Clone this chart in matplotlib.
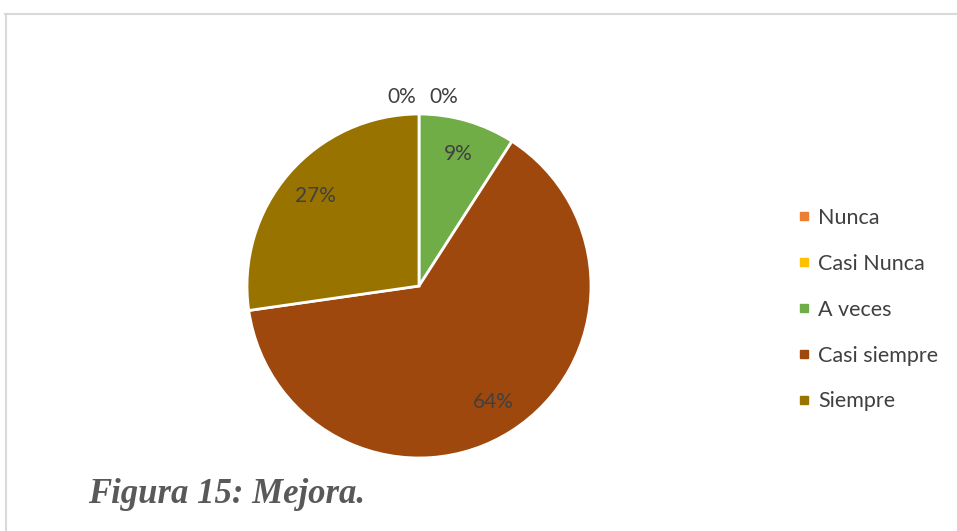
import matplotlib.pyplot as plt
from matplotlib.lines import Line2D
import numpy as np

# Respuestas por categoría (n = 11)
categorias = ['Nunca', 'Casi Nunca', 'A veces', 'Casi siempre', 'Siempre']
respuestas = [0, 0, 1, 7, 3]
colores = ['#ED7D31', '#FFC000', '#70AD47', '#9E480E', '#997300']

total = sum(respuestas)
porcentajes = [100 * v / total for v in respuestas]

fig = plt.figure(figsize=(9.57, 5.31), dpi=100)
W, H = 957, 531

# marco del gráfico
fig.add_artist(Line2D([5 / W, 1], [1 - 14 / H, 1 - 14 / H], color='#D9D9D9', lw=1.5))
fig.add_artist(Line2D([6 / W, 6 / W], [0, 1 - 14 / H], color='#D9D9D9', lw=1.5))

cx, cy, r = 419, 286, 172
ax = fig.add_axes([(cx - r) / W, (H - cy - r) / H, 2 * r / W, 2 * r / H])

wedges, _ = ax.pie(respuestas, colors=colores, startangle=90, counterclock=False,
                   radius=1, wedgeprops=dict(edgecolor='white', linewidth=2))
ax.set_xlim(-1, 1)
ax.set_ylim(-1, 1)
ax.axis('off')

txt = dict(fontsize=15, color='#404040', family='Lato', ha='center', va='center')

# etiquetas de porcentaje
ceros = 0
for w, p in zip(wedges, porcentajes):
    if p == 0:
        dx = -0.1 if ceros == 0 else 0.145
        ax.text(dx, 1.1, f'{p:.0f}%', clip_on=False, **txt)
        ceros += 1
        continue
    ang = np.deg2rad((w.theta1 + w.theta2) / 2)
    d = 0.8
    ax.text(d * np.cos(ang), d * np.sin(ang), f'{p:.0f}%', **txt)

handles = [Line2D([], [], marker='s', ls='', color=c, markersize=6) for c in colores]
leg = fig.legend(handles, categorias, loc='upper left', bbox_to_anchor=(798 / W, 1 - 208 / H),
                 frameon=False, borderpad=0, borderaxespad=0, handlelength=0.6,
                 handletextpad=0.35, labelspacing=1.2, prop=dict(family='Lato', size=15.5))
for t in leg.get_texts():
    t.set_color('#404040')

fig.text(88 / W, 1 - 503 / H, 'Figura 15: Mejora.', family='Liberation Serif',
         style='italic', weight='bold', fontsize=25, color='#595959', va='baseline')

fig.savefig('out.png', dpi=100, facecolor='white')
